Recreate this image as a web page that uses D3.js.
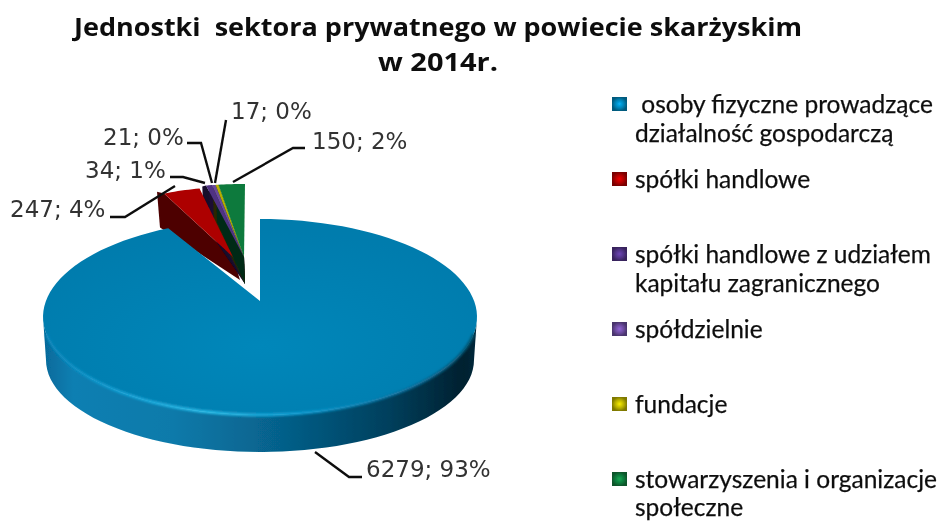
<!DOCTYPE html>
<html>
<head>
<meta charset="utf-8">
<script src="https://cdn.jsdelivr.net/npm/d3@7"></script>
<style>
  html, body { margin: 0; background: #fff; }
  svg { display: block; }
  .title { font-family: "Open Sans"; font-weight: 700; font-size: 25.5px; fill: #111; }
  .value { font-family: "DejaVu Sans"; font-size: 23px; fill: #333; }
  .legend { font-family: "Lato"; font-size: 24.5px; fill: #111; stroke: #111; stroke-width: 0.25px; }
</style>
</head>
<body>
<div id="chart"></div>
<script>
const titleLines = ["Jednostki  sektora prywatnego w powiecie skarżyskim", "w 2014r."];
const categories = [
  ["\u00a0osoby fizyczne prowadzące", "działalność gospodarczą"],
  ["spółki handlowe"],
  ["spółki handlowe z udziałem", "kapitału zagranicznego"],
  ["spółdzielnie"],
  ["fundacje"],
  ["stowarzyszenia i organizacje", "społeczne"]
];
const values = [6279, 247, 34, 21, 17, 150];
const percents = [93, 4, 1, 0, 0, 2];
const colors = ["#0581b3", "#ad0000", "#4f3283", "#6a4a9c", "#b5ad00", "#0f7a3c"];
const wallColors = ["#066a95", "#4d0000", "#14082a", "#1c1030", "#2a2800", "#062a14"];

const W = 941;
const H = 521;

const svg = d3.select("#chart").append("svg").attr("width", W).attr("height", H);
const defs = svg.append("defs");

// scan is a bit soft, so everything gets a small blur
defs.append("filter").attr("id", "soft").append("feGaussianBlur").attr("stdDeviation", 0.45);
defs.append("filter").attr("id", "softer").append("feGaussianBlur").attr("stdDeviation", 1.1);

const wallGrad = defs.append("linearGradient").attr("id", "blueWall");
[[0, "#06699a"], [0.07, "#0a7fb2"], [0.3, "#0a7aaa"], [0.55, "#06608a"], [0.8, "#033f5c"], [0.97, "#01202f"], [1, "#012a3d"]]
  .forEach(([o, c]) => wallGrad.append("stop").attr("offset", o).attr("stop-color", c));

const rimGrad = defs.append("linearGradient").attr("id", "blueRim");
[[0, "#0a86ba"], [0.2, "#1aa6da"], [0.38, "#2bbde8"], [0.6, "#0f9bd0"], [0.85, "#0a6f9c"], [1, "#06526f"]]
  .forEach(([o, c]) => rimGrad.append("stop").attr("offset", o).attr("stop-color", c));

const faceGrad = defs.append("radialGradient").attr("id", "blueFace")
  .attr("cx", 0.5).attr("cy", 0.65).attr("r", 0.7);
[[0, "#0587ba"], [1, "#057aab"]]
  .forEach(([o, c]) => faceGrad.append("stop").attr("offset", o).attr("stop-color", c));

colors.forEach((c, i) => {
  const g = defs.append("radialGradient").attr("id", "key" + i);
  g.append("stop").attr("offset", 0).attr("stop-color", d3.color(c).brighter(0.9));
  g.append("stop").attr("offset", 0.6).attr("stop-color", c);
  g.append("stop").attr("offset", 1).attr("stop-color", d3.color(c).darker(1));
});

const arcs = d3.pie().sort(null)(values);
const chart = svg.append("g").attr("filter", "url(#soft)");

const line = d3.line();
const ellipse = (cx, cy, rx, ry) => (a) => [cx + rx * Math.sin(a), cy - ry * Math.cos(a)];
const sweep = (from, to, n = 60) => d3.range(n + 1).map((i) => from + ((to - from) * i) / n);
const rad = (deg) => (deg * Math.PI) / 180;

// big slice
const bigTop = ellipse(260, 317, 217, 98);
const bigBottom = ellipse(260, 360, 214, 92);
const big = arcs[0];

chart.append("path")
  .attr("d", line(sweep(rad(90), rad(270)).map(bigTop).concat(sweep(rad(270), rad(90)).map(bigBottom))) + "Z")
  .attr("fill", "url(#blueWall)");

// the exploded small slices are pushed back and up, they get their own ellipse
const smallTop = ellipse(245, 257, 190, 73);
const redTop = ellipse(233, 257, 163, 70);
const smallBevel = ellipse(245, 257, 208, 72);
const smallBottom = ellipse(245, 280, 201, 58);
const apexX = (i) => (i === 1 ? 233 : 244);
const topOf = (i) => (i === 1 ? redTop : smallTop);
const small = arcs.slice(1);

small.forEach((d) => {
  const a = d.startAngle;
  chart.append("path")
    .attr("d", line([
      [apexX(d.index), 257],
      topOf(d.index)(a),
      smallBevel(a),
      smallBottom(a),
      [d.index === 1 ? 240 : 245, d.index === 1 ? 280 : 284]
    ]) + "Z")
    .attr("fill", wallColors[d.index]);
});

small.forEach((d) => {
  const outer = sweep(d.startAngle, d.endAngle, 10).map(topOf(d.index));
  chart.append("path")
    .attr("d", line([[apexX(d.index), 257]].concat(outer)) + "Z")
    .attr("fill", colors[d.index]);
});

chart.append("path")
  .attr("d", line([[260, 301]].concat(sweep(big.startAngle, big.endAngle, 120).map(bigTop))) + "Z")
  .attr("fill", "url(#blueFace)");

chart.append("path")
  .attr("d", line(sweep(rad(100), rad(260)).map(bigTop)))
  .attr("fill", "none")
  .attr("stroke", "url(#blueRim)")
  .attr("stroke-width", 3)
  .attr("filter", "url(#softer)");

// leader lines
const leaders = [
  [[315, 452], [349, 477], [362, 477]],
  [[110, 217], [125, 217], [175, 186]],
  [[170, 177], [183, 177], [205, 183]],
  [[187, 143], [201, 143], [212, 183]],
  [[226, 120], [215, 183]],
  [[305, 148], [293, 148], [233, 182]]
];
chart.selectAll("path.leader").data(leaders).enter().append("path")
  .attr("class", "leader")
  .attr("d", (d) => line(d))
  .attr("fill", "none")
  .attr("stroke", "#111")
  .attr("stroke-width", 2.4);

// value labels
const labelPos = [[366, 477], [10, 217], [85, 178], [103, 145], [231, 119], [312, 149]];
chart.selectAll("text.value").data(values).enter().append("text")
  .attr("class", "value")
  .attr("x", (d, i) => labelPos[i][0])
  .attr("y", (d, i) => labelPos[i][1])
  .text((d, i) => d + "; " + percents[i] + "%");

// title
const titleWidth = [728, 120];
chart.selectAll("text.title").data(titleLines).enter().append("text")
  .attr("class", "title")
  .attr("x", 438)
  .attr("y", (d, i) => 36 + i * 35)
  .attr("text-anchor", "middle")
  .attr("textLength", (d, i) => titleWidth[i])
  .attr("lengthAdjust", "spacingAndGlyphs")
  .style("white-space", "pre")
  .text((d) => d);

// legend
const rowY = d3.scaleLinear().domain([0, 5]).range([113, 488]);
const rows = chart.selectAll("g.row").data(categories).enter().append("g")
  .attr("class", "row")
  .attr("transform", (d, i) => `translate(0,${rowY(i)})`);
rows.append("rect")
  .attr("x", 612).attr("y", -16).attr("width", 15).attr("height", 14)
  .attr("fill", (d, i) => "url(#key" + i + ")");
// last row sits at the page edge, keep its second line inside
rows.selectAll("text").data((d, i) => d.map((t) => ({ t, step: i === 5 ? 27.5 : 28.5 }))).enter().append("text")
  .attr("class", "legend")
  .attr("x", 635)
  .attr("y", (d, i) => i * d.step)
  .text((d) => d.t);
</script>
</body>
</html>
